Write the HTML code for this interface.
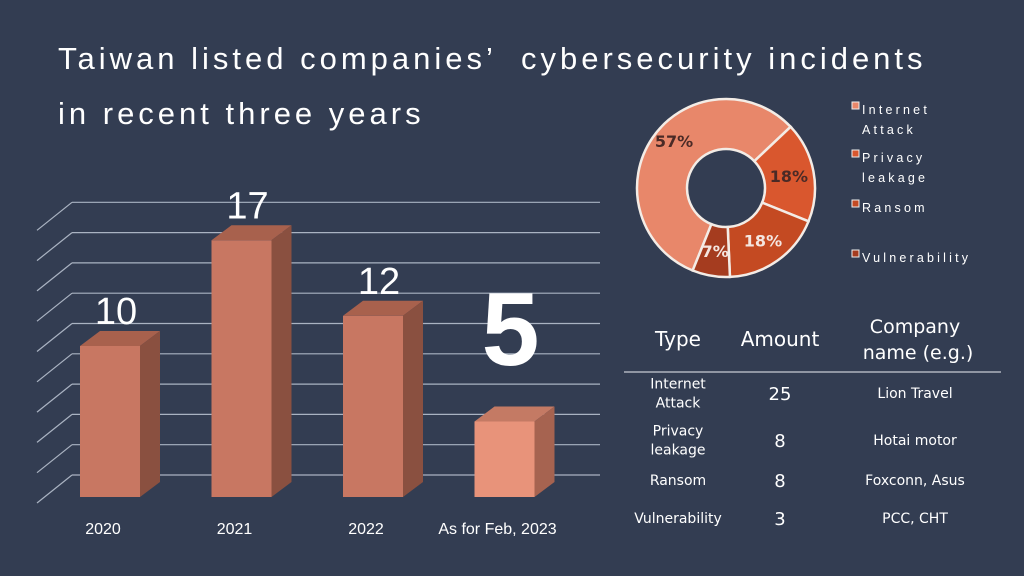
<!DOCTYPE html>
<html><head><meta charset="utf-8">
<style>
html,body{margin:0;padding:0;background:#333d52;}
body{width:1024px;height:576px;overflow:hidden;position:relative;font-family:"Liberation Sans",sans-serif;color:#fff;}
.title{position:absolute;left:58px;font-size:31px;letter-spacing:4px;white-space:pre;}
</style></head><body>
<div class="title" style="top:41px">Taiwan listed companies’  cybersecurity incidents</div>
<div class="title" style="top:96px">in recent three years</div>
<svg id="chart" width="1024" height="576" style="position:absolute;left:0;top:0"></svg>
<script>
const categories=["2020","2021","2022","As for Feb, 2023"];
const counts=[10,17,12,5];
const gridTicks=[1,2,3,4,5,6,7,8,9,10];
const pieLabels=["Internet Attack","Privacy leakage","Ransom","Vulnerability"];
const pieValues=[25,8,8,3];
const pieColors=["#e8876a","#d9572e","#c44a22","#a53c1f"];
const tableTypes=["Internet\nAttack","Privacy\nleakage","Ransom","Vulnerability"];
const tableCompanies=["Lion Travel","Hotai motor","Foxconn, Asus","PCC, CHT"];

const NS="http://www.w3.org/2000/svg";
const svg=document.getElementById('chart');
function mk(t,a,p){const e=document.createElementNS(NS,t);for(const k in a)e.setAttribute(k,a[k]);(p||svg).appendChild(e);return e;}
const base=497, unit=15.1, dx=20, dy=-15;
function yS(v){return base-v*unit;}
function xS(i){return 80+i*131.5;}
gridTicks.forEach((t,i)=>{
  const gy=475-(t-1)*30.3;
  const g=mk('g',{});
  
  
  mk('line',{x1:72,y1:gy,x2:600,y2:gy,stroke:'#aab3c2','stroke-width':1.2},g);
  mk('line',{x1:72,y1:gy,x2:37,y2:gy+28,stroke:'#aab3c2','stroke-width':1.2},g);
});
categories.forEach((c,i)=>{
  const x=xS(i), w=60, top=yS(counts[i]);
  const last=i===categories.length-1;
  const g=mk('g',{});
  
  
  mk('polygon',{points:`${x},${top} ${x+dx},${top+dy} ${x+w+dx},${top+dy} ${x+w},${top}`,fill:last?'#c47a64':'#a8614d'},g);
  mk('polygon',{points:`${x+w},${top} ${x+w+dx},${top+dy} ${x+w+dx},${base+dy} ${x+w},${base}`,fill:last?'#a66350':'#8a5040'},g);
  mk('rect',{x:x,y:top,width:w,height:base-top,fill:last?'#e8937a':'#c87762'},g);
  const lab=mk('text',{x:x+w/2+6,y:last?365:top-22,'text-anchor':'middle',fill:'#fff','font-size':last?104:38,'font-weight':last?'bold':'normal','font-family':'Liberation Sans, sans-serif'});
  lab.textContent=counts[i];
  
  
  const cl=mk('text',{x:last?x+w/2-7:x+w/2-7,y:534,'text-anchor':'middle',fill:'#fff','font-size':16,'font-family':'Liberation Sans, sans-serif'});
  cl.textContent=c;
  
  
});
const cx=726,cy=188,R=89,r=39;
const total=pieValues.reduce((a,b)=>a+b,0);
let ang=-158;
function pt(a,rad){const t=a*Math.PI/180;return [cx+rad*Math.sin(t),cy-rad*Math.cos(t)];}
pieValues.forEach((v,i)=>{
  const sw=v/total*360, a0=ang, a1=ang+sw; ang=a1;
  const [x0,y0]=pt(a0,R),[x1,y1]=pt(a1,R),[x2,y2]=pt(a1,r),[x3,y3]=pt(a0,r);
  const lg=sw>180?1:0;
  const p=mk('path',{d:`M${x0},${y0} A${R},${R} 0 ${lg} 1 ${x1},${y1} L${x2},${y2} A${r},${r} 0 ${lg} 0 ${x3},${y3}Z`,fill:pieColors[i],stroke:'#f3ece6','stroke-width':2.5});
  
  
  const mid=(a0+a1)/2;const [lx,ly]=pt(i===0?-48:mid,(R+r)/2+ (i===0?6:0));
  const t=mk('text',{x:lx,y:ly+6,'text-anchor':'middle',fill:i===0||i===1?'#4a2a26':'#f4e6e0','font-size':16,'font-weight':'bold','font-family':'DejaVu Sans, sans-serif'});
  t.textContent=Math.round(v/total*100)+'%';
  
  
});
const legY=[[110,130],[158,178],[208],[258]];
pieLabels.forEach((l,i)=>{
  const g=mk('g',{});
  
  
  mk('rect',{x:852,y:legY[i][0]-8,width:7,height:7,fill:pieColors[i],stroke:'#eee','stroke-width':1},g);
  const words=legY[i].length>1?l.split(' '):[l];
  words.forEach((w,j)=>{
    const t=mk('text',{x:862,y:legY[i][j]+4,fill:'#fff','font-size':12.5,'letter-spacing':3.2,'font-family':'Liberation Sans, sans-serif'},g);
    t.textContent=w;
  });
});
function txt(s,x,y,fs,name){const t=mk('text',{x:x,y:y,'text-anchor':'middle',fill:'#fff','font-size':fs,'font-family':'DejaVu Sans, sans-serif'});t.textContent=s;return t;}
txt('Type',678,346,20,'table-header-type');
txt('Amount',780,346,20,'table-header-amount');
txt('Company',915,333,19,'table-header-company');
txt('name (e.g.)',918,359,19,'table-header-company');
const hl=mk('line',{x1:624,y1:372,x2:1001,y2:372,stroke:'#c8ccd4','stroke-width':1.3});


const rowY=[393,440,480,518];
tableTypes.forEach((t,i)=>{
  const ls=t.split('\n');
  ls.forEach((s,j)=>txt(s,678,rowY[i]+5+(ls.length>1?(j-0.5)*19:0),14,'table-type-cell'));
  txt(String(pieValues[i]),780,rowY[i]+7,18,'table-amount-cell');
  txt(tableCompanies[i],915,rowY[i]+5,14,'table-company-cell');
});
</script>
</body></html>
